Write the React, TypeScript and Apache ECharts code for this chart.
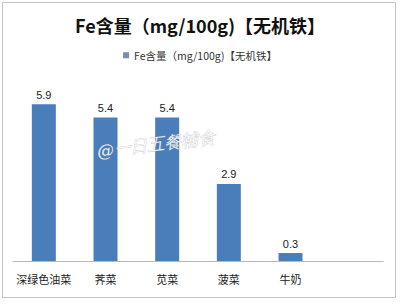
import React, { useEffect, useRef } from "react";
import * as echarts from "echarts";

const categories = ["深绿色油菜", "荠菜", "苋菜", "菠菜", "牛奶", ""];
const values = [5.9, 5.4, 5.4, 2.9, 0.3, null];
const seriesName = "Fe含量（mg/100g)【无机铁】";
const titleText = "Fe含量（mg/100g)【无机铁】";
const watermark = "@一日五餐辅食";

export default function App() {
  const ref = useRef<HTMLDivElement>(null);
  useEffect(() => {
    document.body.style.margin = "0";
    const chart = echarts.init(ref.current!, null, { renderer: "svg" });
    chart.setOption({
      animation: false,
      backgroundColor: "#fff",
      title: {
        text: titleText,
        left: "center",
        top: 11,
        textStyle: {
          fontSize: 18,
          fontWeight: "bold",
          color: "#111",
          fontFamily: "Noto Sans CJK SC, sans-serif",
        },
      },
      legend: {
        top: 45,
        left: "center",
        itemWidth: 6,
        itemHeight: 6,
        itemGap: 4,
        icon: "rect",
        textStyle: {
          fontSize: 10.5,
          color: "#333",
          fontFamily: "Noto Sans CJK SC, sans-serif",
        },
        data: [{ name: seriesName, itemStyle: { color: "#7a8bab" } }],
      },
      grid: { left: 13, right: 17, top: 75, bottom: 44 },
      xAxis: {
        type: "category",
        data: categories,
        axisLine: { lineStyle: { color: "#b8b8b8", width: 1 } },
        axisTick: { show: false },
        axisLabel: {
          fontSize: 11,
          color: "#222",
          margin: 12,
          interval: 0,
          fontFamily: "Noto Sans CJK SC, sans-serif",
        },
      },
      yAxis: {
        type: "value",
        min: 0,
        max: 7,
        show: false,
        splitLine: { show: false },
      },
      series: [
        {
          name: seriesName,
          type: "bar",
          data: values,
          barWidth: 24,
          itemStyle: { color: "#4a7ebb" },
          label: {
            show: true,
            position: "top",
            distance: 4,
            fontSize: 11,
            color: "#222",
            fontFamily: "Liberation Sans, Arial, sans-serif",
          },
        },
      ],
      graphic: [
        {
          type: "rect",
          shape: { x: 2.5, y: 2.5, width: 393, height: 295 },
          style: { fill: "none", stroke: "#c4c4c4", lineWidth: 1 },
          z: 0,
        },
        {
          type: "text",
          x: 98,
          y: 160,
          rotation: (7 * Math.PI) / 180,
          style: {
            text: watermark,
            fontSize: 17,
            fontStyle: "italic",
            fontFamily: "DejaVu Serif, serif",
            fill: "rgba(255,255,255,0.85)",
            stroke: "rgba(150,150,150,0.6)",
            lineWidth: 0.6,
            textVerticalAlign: "bottom",
          },
          z: 100,
        },
      ],
    });
    return () => chart.dispose();
  }, []);
  return <div ref={ref} style={{ width: 400, height: 305 }} />;
}
